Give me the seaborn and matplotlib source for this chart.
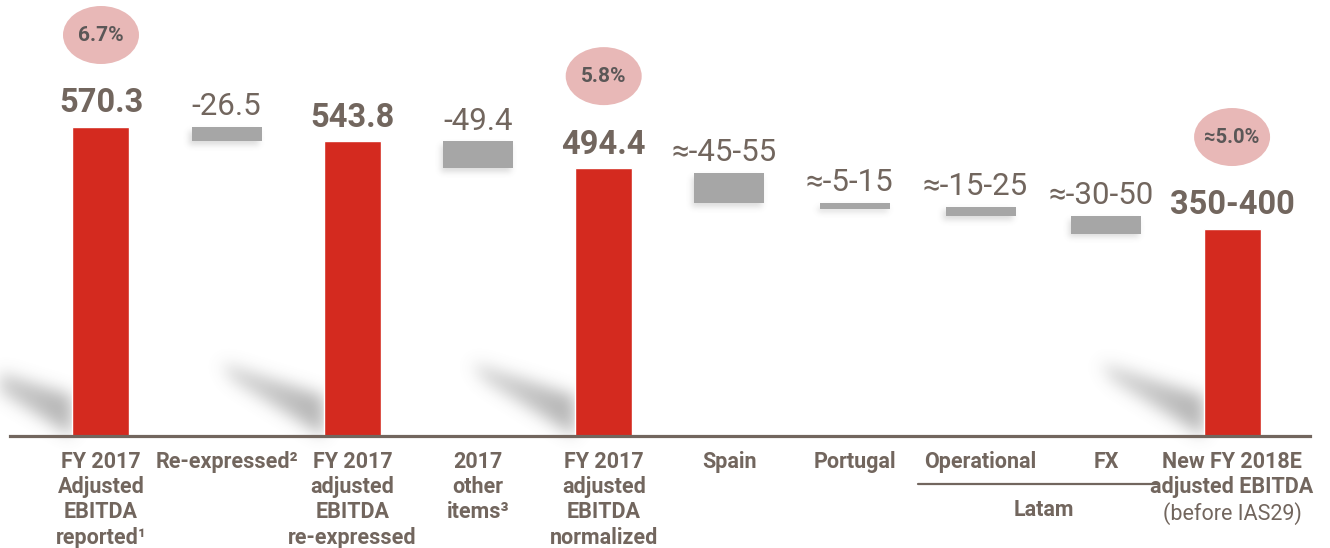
import numpy as np
import matplotlib
matplotlib.use("Agg")
import matplotlib.pyplot as plt
import matplotlib.transforms as mtransforms
from matplotlib.patches import Ellipse
from matplotlib.path import Path
from matplotlib.lines import Line2D
import seaborn as sns

# ---- data -------------------------------------------------------------
categories = [
    "FY 2017\nAdjusted\nEBITDA\nreported¹",
    "Re-expressed²",
    "FY 2017\nadjusted\nEBITDA\nre-expressed",
    "2017\nother\nitems³",
    "FY 2017\nadjusted\nEBITDA\nnormalized",
    "Spain",
    "Portugal",
    "Operational",
    "FX",
    "New FY 2018E\nadjusted EBITDA",
]
final_subtitle = "(before IAS29)"
group_label = "Latam"
group_members = [7, 8]

total_idx = [0, 2, 4, 9]
total_vals = [570.3, 543.8, 494.4, 382.0]
total_labels = ["570.3", "543.8", "494.4", "350-400"]

margin_idx = [0, 4, 9]
margin_labels = ["6.7%", "5.8%", "≈5.0%"]

step_idx = [1, 3, 5, 6, 7, 8]
step_top = [570.3, 543.8, 485.0, 430.0, 423.0, 406.0]
step_bottom = [543.8, 494.4, 430.0, 419.0, 406.0, 373.0]
step_labels = ["-26.5", "-49.4", "≈-45-55", "≈-5-15", "≈-15-25", "≈-30-50"]

# ---- style ------------------------------------------------------------
RED = "#D42A1F"
GREY = "#A6A6A6"
TEXT = "#72665E"
PINK = "#E8B8B7"
BADGE_TEXT = "#5B5757"

sns.set_style("white")
plt.rcParams["font.family"] = ["Roboto", "DejaVu Sans"]

W, H = 1330, 548
fig = plt.figure(figsize=(W / 100, H / 100), dpi=100)
fig.patch.set_facecolor("white")

# background layer for the soft shadows
bg = fig.add_axes([0, 0, 1, 1], zorder=0)
bg.set_xlim(0, W)
bg.set_ylim(0, H)
bg.axis("off")

ax = fig.add_axes([10 / W, 112 / H, 1300 / W, 436 / H], zorder=1)
ax.set_facecolor("none")

RED_W = 0.4536
GREY_W = 0.557

df_tot = {"cat": [categories[i] for i in total_idx], "val": total_vals}
sns.barplot(x=df_tot["cat"], y=df_tot["val"], order=categories, color=RED,
            saturation=1, width=RED_W, ax=ax, zorder=3)

ax.bar(step_idx, np.array(step_top) - np.array(step_bottom), bottom=step_bottom,
       width=GREY_W, color=GREY, zorder=3, linewidth=0)

ax.set_xlim(-0.724, 9.62)
ax.set_ylim(0, 804.7)
ax.set_xticks([])
ax.set_yticks([])
ax.set_xlabel("")
ax.set_ylabel("")
for s in ["left", "right", "top"]:
    ax.spines[s].set_visible(False)
ax.spines["bottom"].set_color(TEXT)
ax.spines["bottom"].set_linewidth(2.3)
ax.spines["bottom"].set_zorder(4)

# ---- value labels ----------------------------------------------------
for i, v, lab in zip(total_idx, total_vals, total_labels):
    ax.annotate(lab, xy=(i, v), xytext=(0, 10.5), textcoords="offset points",
                ha="center", va="baseline", fontsize=23.5, fontweight="bold",
                color=TEXT, zorder=5)

for i, t, lab in zip(step_idx, step_top, step_labels):
    ax.annotate(lab, xy=(i, t), xytext=(-4 if lab.startswith("≈") else 0, 8.5),
                textcoords="offset points", ha="center", va="baseline",
                fontsize=22.5, color=TEXT, zorder=5)

# ---- margin badges ---------------------------------------------------
px_per_unit = 436 / 804.7
for i, lab in zip(margin_idx, margin_labels):
    v = total_vals[total_idx.index(i)]
    cy = v + 92 / px_per_unit
    ax.add_patch(Ellipse((i, cy), width=76 / 125.67, height=58 / px_per_unit,
                         facecolor=PINK, edgecolor="none", zorder=4))
    ax.text(i, cy, lab, ha="center", va="center",
            fontsize=15 if len(lab) < 5 else 14.5,
            fontweight="bold", color=BADGE_TEXT, zorder=5)

# ---- category labels -------------------------------------------------
LBL = 15.5
for i, lab in enumerate(categories):
    ax.annotate(lab, xy=(i, 0), xytext=(0, -10.5), textcoords="offset points",
                ha="center", va="top", fontsize=LBL, fontweight="bold",
                color=TEXT, linespacing=1.2, annotation_clip=False)
n_lines = categories[-1].count("\n") + 1
ax.annotate(final_subtitle, xy=(9, 0), xytext=(0, -11.5 - 18.0 * n_lines),
            textcoords="offset points", ha="center", va="top", fontsize=LBL,
            color=TEXT, annotation_clip=False)

# Latam group bracket
g0, g1 = min(group_members) - 0.5, max(group_members) + 0.42
line_tr = ax.transData + mtransforms.ScaledTranslation(0, -34.5 / 72, fig.dpi_scale_trans)
ax.add_line(Line2D([g0, g1], [0, 0], transform=line_tr, color=TEXT, lw=1.6,
                   clip_on=False))
ax.annotate(group_label, xy=(np.mean(group_members), 0), xytext=(0, -53),
            textcoords="offset points", ha="center", va="center", fontsize=LBL,
            fontweight="bold", color=TEXT, annotation_clip=False)

# ---- soft shadows ----------------------------------------------------
def gaussian_blur(arr, sigma):
    r = int(3 * sigma)
    k = np.exp(-0.5 * (np.arange(-r, r + 1) / sigma) ** 2)
    k /= k.sum()
    arr = np.apply_along_axis(lambda row: np.convolve(row, k, mode="same"), 1, arr)
    arr = np.apply_along_axis(lambda col: np.convolve(col, k, mode="same"), 0, arr)
    return arr

yy, xx = np.mgrid[0:H, 0:W]
pts = np.column_stack([xx.ravel() + 0.5, yy.ravel() + 0.5])

cast = np.zeros((H, W))
for i in total_idx:
    px, py = ax.transData.transform((i - RED_W / 2, 0))
    poly = Path([(px, py), (px, py + 40), (px - 104, py + 74), (px - 92, py + 56)])
    m = poly.contains_points(pts).reshape(H, W).astype(float)
    fade = np.clip(1 - 0.45 * (px - xx) / 100, 0.4, 1)
    cast = np.maximum(cast, m * fade)
cast = gaussian_blur(cast, 8) * 0.55

drop = np.zeros((H, W))
for i, t, b in zip(step_idx, step_top, step_bottom):
    x0, y0 = ax.transData.transform((i - GREY_W / 2, b))
    x1, y1 = ax.transData.transform((i + GREY_W / 2, t))
    m = (xx >= x0 - 3) & (xx <= x1 - 3) & (yy >= y0 - 4) & (yy <= y1 - 4)
    drop = np.maximum(drop, m.astype(float))
drop = gaussian_blur(drop, 3) * 0.25

alpha = np.clip(cast + drop, 0, 1)
rgba = np.zeros((H, W, 4))
rgba[..., :3] = 0.45
rgba[..., 3] = alpha
bg.imshow(rgba, origin="lower", extent=(0, W, 0, H), interpolation="bilinear",
          aspect="auto")

fig.savefig("out.png", dpi=100, facecolor="white")
